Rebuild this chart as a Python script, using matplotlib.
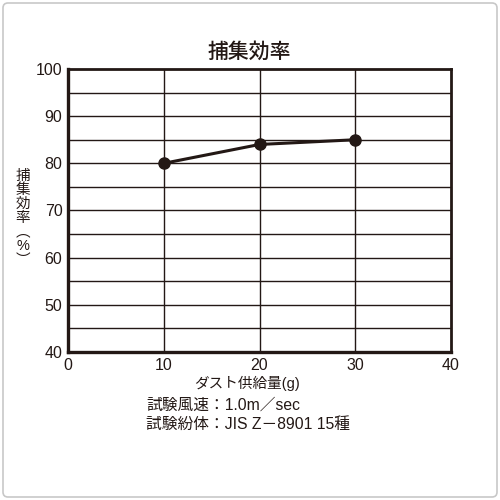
import matplotlib
matplotlib.use("Agg")
import matplotlib.pyplot as plt
from matplotlib.patches import FancyBboxPatch

plt.rcParams["font.family"] = ["Liberation Sans", "Noto Sans CJK JP", "DejaVu Sans"]

# data
supply_g = [10, 20, 30]
efficiency = [80, 84, 85]
x_ticks = [0, 10, 20, 30, 40]
y_ticks = [40, 50, 60, 70, 80, 90, 100]
y_grid = [45, 50, 55, 60, 65, 70, 75, 80, 85, 90, 95]

title = "捕集効率"
ylabel = "捕\n集\n効\n率\n︵\n%\n︶"
xlabel = "ダスト供給量(g)"
notes = ["試験風速：1.0m／sec", "試験紛体：JIS Z－8901 15種"]

INK = "#231815"
W, H = 500, 500
fig = plt.figure(figsize=(5, 5), dpi=100)

# light rounded border around the whole picture
fig.patches.append(FancyBboxPatch((3 / W, 3 / H), 494 / W, 494 / H,
                                  boxstyle="round,pad=0,rounding_size=0.01",
                                  transform=fig.transFigure, fill=False,
                                  edgecolor="#c8c8c8", linewidth=1.2))

# axes box: x 68..451, y 69..352 (pixels from top)
ax = fig.add_axes([68 / W, 1 - 352 / H, (451 - 68) / W, (352 - 69) / H])
ax.set_xlim(0, 40)
ax.set_ylim(40, 100)

for y in y_grid:
    ax.axhline(y, color=INK, lw=1.0, zorder=1)
for x in supply_g:
    ax.axvline(x, color=INK, lw=1.0, zorder=1)

ax.plot(supply_g, efficiency, "-o", color=INK, lw=2.2, ms=8, zorder=3)

for side in ("left", "bottom"):
    ax.spines[side].set_linewidth(2.4)
for side in ("top", "right"):
    ax.spines[side].set_linewidth(2.0)
for s in ax.spines.values():
    s.set_color(INK)

ax.set_xticks(x_ticks)
ax.set_yticks(y_ticks)
ax.tick_params(length=0, labelsize=11.5, colors=INK, pad=4)

fig.text(249 / W, 1 - 52 / H, title, ha="center", va="center",
         fontsize=15, fontweight="medium", color=INK)
fig.text(23 / W, 1 - 218 / H, ylabel, ha="center", va="center",
         fontsize=10.5, color=INK, linespacing=1.0)
fig.text(247 / W, 1 - 383 / H, xlabel, ha="center", va="center",
         fontsize=10.5, color=INK)
for i, line in enumerate(notes):
    fig.text(146 / W, 1 - (405 + 19 * i) / H, line, ha="left", va="center",
             fontsize=11.3, color=INK)

fig.savefig("out.png", dpi=100)
